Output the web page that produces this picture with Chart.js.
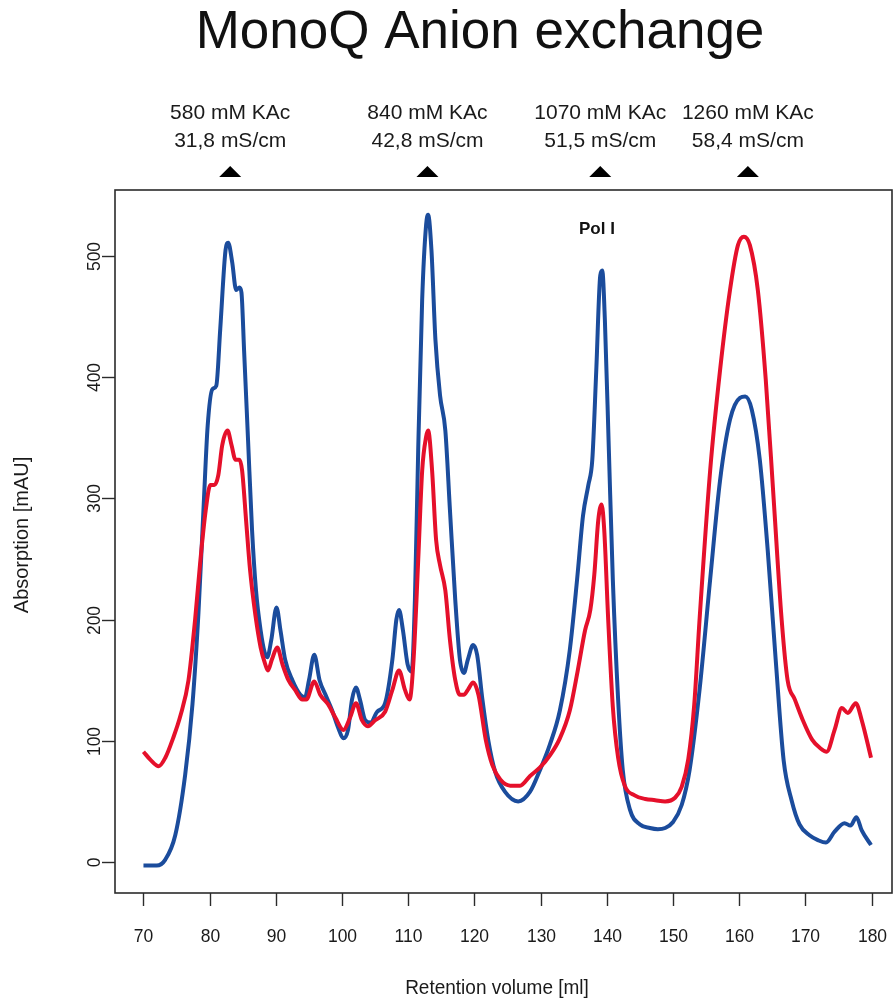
<!DOCTYPE html>
<html>
<head>
<meta charset="utf-8">
<script src="https://cdn.jsdelivr.net/npm/chart.js@4/dist/chart.umd.min.js"></script>
<style>
html,body{margin:0;padding:0;background:#fff;}
#wrap{width:893px;height:1000px;position:relative;}
</style>
</head>
<body>
<div id="wrap"><canvas id="c" width="893" height="1000"></canvas></div>
<script>
// ---- data ----
const volumeBlue = [70,71,72,73.3,74.8,76.3,77.4,78.3,79.1,79.7,80.4,81.0,81.6,82.4,82.8,83.4,84.0,84.5,84.8,85.2,85.8,86.4,87.0,87.7,88.3,88.7,89.3,90.1,90.7,91.4,92.5,93.7,94.4,95.0,95.8,96.6,97.5,98.5,99.4,100.2,100.9,101.5,102.1,102.7,103.5,104.3,105.3,106.5,107.6,108.2,108.6,109.2,109.9,110.5,111.0,111.5,112.1,112.7,113.0,113.5,114.1,114.8,115.6,116.3,117.1,117.8,118.4,119.0,119.8,120.4,121.2,122.1,123.1,124.6,126.6,128.4,129.9,131.4,132.9,134.4,135.5,136.4,137.2,137.8,138.4,139.0,139.3,139.7,140.3,140.9,141.7,142.4,143.5,145.0,146.5,147.7,148.8,150.0,151.3,152.5,154.0,155.6,157.1,158.6,160.1,160.9,161.9,163.1,164.3,165.5,166.7,167.9,169.1,170.6,171.9,173.1,174.4,175.9,176.8,177.7,178.5,179.9];
const absBlue = [-3,-3,-3,2,22,72,130,205,295,360,390,393,440,505,511,495,472,474,470,422,348,274,224,191,173,169,183,210,191,167,150,138,136,150,171,150,138,125,111,102,109,134,144,134,117,115,124,131,167,200,208,191,163,157,216,340,464,526,534,505,431,385,356,290,216,167,156,167,179,171,134,100,75,58,50,58,76,97,125,175,233,286,311,332,406,484,488,447,340,233,134,76,43,31,28,27,28,33,47,76,142,233,315,365,383,384,373,332,257,167,84,51,31,22,18,16,25,32,30,37,26,14];

const volumeRed = [70,71.1,72.3,73.3,74.4,75.6,76.8,77.8,78.6,79.4,80.1,80.7,81.3,81.9,82.7,83.3,83.9,84.5,84.9,85.5,86.1,86.9,87.7,88.4,88.8,89.4,90.2,91.0,91.9,92.9,94.0,94.6,95.8,96.7,97.9,99.0,100.2,101.2,102.1,103.0,103.9,105.0,106.5,107.6,108.6,109.5,110.2,110.8,111.5,112.1,112.7,113.0,113.6,114.2,114.8,115.6,116.3,117.1,117.8,118.4,119.0,119.8,120.6,121.7,122.7,123.9,125.4,126.9,128.4,129.9,131.4,132.9,134.4,135.6,136.7,137.5,138.1,138.7,139.2,139.6,140.2,140.9,141.7,142.7,144.2,145.8,147.3,148.8,150.3,151.3,152.3,153.2,154.0,155.6,157.1,158.6,159.8,160.7,161.6,162.8,164.0,165.2,166.4,167.3,168.4,169.6,171.0,172.2,173.2,174.4,175.5,176.4,177.6,178.5,179.9];
const absRed = [91,84,79,86,101,121,150,200,249,290,311,311,319,344,356,344,332,332,323,282,241,204,177,163,158,167,177,163,150,142,134,134,149,138,130,119,109,119,131,117,112,117,124,142,158,142,134,167,249,323,351,356,323,266,245,224,183,150,138,138,142,148,138,101,80,68,63,63,71,78,88,102,125,158,191,208,237,282,295,274,200,128,86,63,55,52,51,50,53,62,85,130,200,323,406,472,509,516,509,472,398,299,200,150,134,117,101,94,91,109,127,123,131,117,86];

const xTicks = [70,80,90,100,110,120,130,140,150,160,170,180];
const yTicks = [0,100,200,300,400,500];
const markerVolumes = [83.1,112.9,139.0,161.3];
const markerSalt = ["580 mM KAc","840 mM KAc","1070 mM KAc","1260 mM KAc"];
const markerConductivity = ["31,8 mS/cm","42,8 mS/cm","51,5 mS/cm","58,4 mS/cm"];
const titleText = "MonoQ Anion exchange";
const xTitle = "Retention volume [ml]";
const yTitle = "Absorption [mAU]";
const peakLabel = "Pol I";
const peakLabelPos = [138.5, 522];

const toPoints = (xs, ys) => xs.map((x, i) => ({x: x, y: ys[i]}));

const FONT = "'Liberation Sans', Arial, Helvetica, sans-serif";

function txt(ctx, s, x, y, font, opts) {
  opts = opts || {};
  ctx.save();
  ctx.translate(x, y);
  if (opts.rot) ctx.rotate(opts.rot);
  ctx.scale(opts.sx || 1, 1);
  ctx.font = font;
  ctx.fillStyle = opts.color || '#1a1a1a';
  ctx.textAlign = opts.align || 'center';
  ctx.textBaseline = opts.base || 'middle';
  ctx.fillText(s, 0, 0);
  ctx.restore();
}

const decor = {
  id: 'decor',
  afterDraw(chart) {
    const ctx = chart.ctx;
    const a = chart.chartArea;
    const xs = chart.scales.x, ys = chart.scales.y;
    ctx.save();
    // box
    ctx.strokeStyle = '#2b2b2b';
    ctx.lineWidth = 1.6;
    ctx.strokeRect(a.left, a.top, a.right - a.left, a.bottom - a.top);
    // x ticks
    ctx.lineWidth = 1.4;
    xTicks.forEach(v => {
      const px = Math.round(xs.getPixelForValue(v)) + 0.5;
      ctx.beginPath(); ctx.moveTo(px, a.bottom); ctx.lineTo(px, a.bottom + 13); ctx.stroke();
      txt(ctx, String(v), px, 937, '19px ' + FONT, {sx: 0.92});
    });
    // y ticks
    yTicks.forEach(v => {
      const py = Math.round(ys.getPixelForValue(v)) + 0.5;
      ctx.beginPath(); ctx.moveTo(a.left - 13, py); ctx.lineTo(a.left, py); ctx.stroke();
      txt(ctx, String(v), 95, py, '19px ' + FONT, {sx: 0.92, rot: -Math.PI / 2});
    });
    // axis titles
    txt(ctx, xTitle, 497, 988, '20px ' + FONT, {sx: 0.95});
    txt(ctx, yTitle, 22, 535, '21px ' + FONT, {sx: 0.95, rot: -Math.PI / 2});
    // main title
    txt(ctx, titleText, 480, 33, '53px ' + FONT, {color: '#111'});
    // markers
    markerVolumes.forEach((v, i) => {
      const px = xs.getPixelForValue(v);
      txt(ctx, markerSalt[i], px, 113, '21px ' + FONT);
      txt(ctx, markerConductivity[i], px, 141, '21px ' + FONT);
      ctx.fillStyle = '#000';
      ctx.beginPath();
      ctx.moveTo(px - 11, 177); ctx.lineTo(px + 11, 177); ctx.lineTo(px, 166); ctx.closePath();
      ctx.fill();
    });
    // peak label
    txt(ctx, peakLabel, xs.getPixelForValue(peakLabelPos[0]), ys.getPixelForValue(peakLabelPos[1]), 'bold 17px ' + FONT, {color: '#111'});
    ctx.restore();
  }
};

new Chart(document.getElementById('c'), {
  type: 'line',
  data: {
    datasets: [
      {label: 'red', data: toPoints(volumeRed, absRed), borderColor: '#e5102b', borderWidth: 4, pointRadius: 0, cubicInterpolationMode: 'monotone', fill: false},
      {label: 'blue', data: toPoints(volumeBlue, absBlue), borderColor: '#1b4c9c', borderWidth: 4, pointRadius: 0, cubicInterpolationMode: 'monotone', fill: false}
    ]
  },
  options: {
    responsive: false,
    animation: false,
    layout: {padding: {left: 115, right: 1, top: 190, bottom: 107}},
    plugins: {legend: {display: false}, title: {display: false}, tooltip: {enabled: false}},
    scales: {
      x: {type: 'linear', min: 65.7, max: 183.07, display: false},
      y: {type: 'linear', min: -25.6, max: 554.5, display: false}
    }
  },
  plugins: [decor]
});
</script>
</body>
</html>
